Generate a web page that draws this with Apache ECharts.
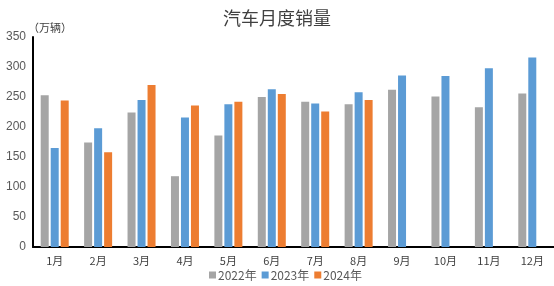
<!DOCTYPE html>
<html><head><meta charset="utf-8">
<script src="https://cdn.jsdelivr.net/npm/echarts@6/dist/echarts.min.js"></script>
<style>html,body{margin:0;padding:0;background:#fff}#c{width:554px;height:286px}</style>
</head><body><div id="c"></div>
<script>
const months = ['1月','2月','3月','4月','5月','6月','7月','8月','9月','10月','11月','12月'];
const sales2022 = [253,174,224,118,186,250,242,238,262,251,233,256];
const sales2023 = [165,198,245,216,238,263,239,258,286,285,298,316];
const sales2024 = [244,158,270,236,242,255,226,245,null,null,null,null];
const seriesNames = ['2022年','2023年','2024年'];
const colors = ['#A5A5A5','#5B9BD5','#ED7D31'];

const chart = echarts.init(document.getElementById('c'));
const font = '"Microsoft YaHei","Noto Sans CJK SC",sans-serif';
chart.setOption({
  animation:false,
  title:{text:'汽车月度销量',left:'center',top:4,textStyle:{fontSize:18,fontWeight:'normal',color:'#404040',fontFamily:font}},
  graphic:[{type:'text',left:28,top:22,style:{text:'（万辆）',fontSize:11,fill:'#404040',fontFamily:font}}],
  legend:{bottom:0,left:204,itemWidth:7,itemHeight:7,itemGap:5,icon:'rect',
    textStyle:{fontSize:12,color:'#595959',fontFamily:font,padding:[0,0,0,-3]},data:seriesNames},
  grid:{left:33,right:0,top:37,bottom:39,containLabel:false},
  xAxis:{type:'category',data:months,
    axisLine:{lineStyle:{color:'#000',width:2}},axisTick:{show:false},
    axisLabel:{fontSize:11,color:'#404040',margin:8,fontFamily:font}},
  yAxis:{type:'value',min:0,max:350,interval:50,
    axisLine:{show:true,lineStyle:{color:'#000',width:2}},axisTick:{show:false},
    splitLine:{show:false},
    axisLabel:{fontSize:12,color:'#595959',margin:7,fontFamily:'Arial, "Liberation Sans", sans-serif'}},
  series:[sales2022,sales2023,sales2024].map((d,i)=>({
    name:seriesNames[i],type:'bar',data:d,barWidth:8,barGap:'25%',
    itemStyle:{color:colors[i]}
  }))
});
</script></body></html>
